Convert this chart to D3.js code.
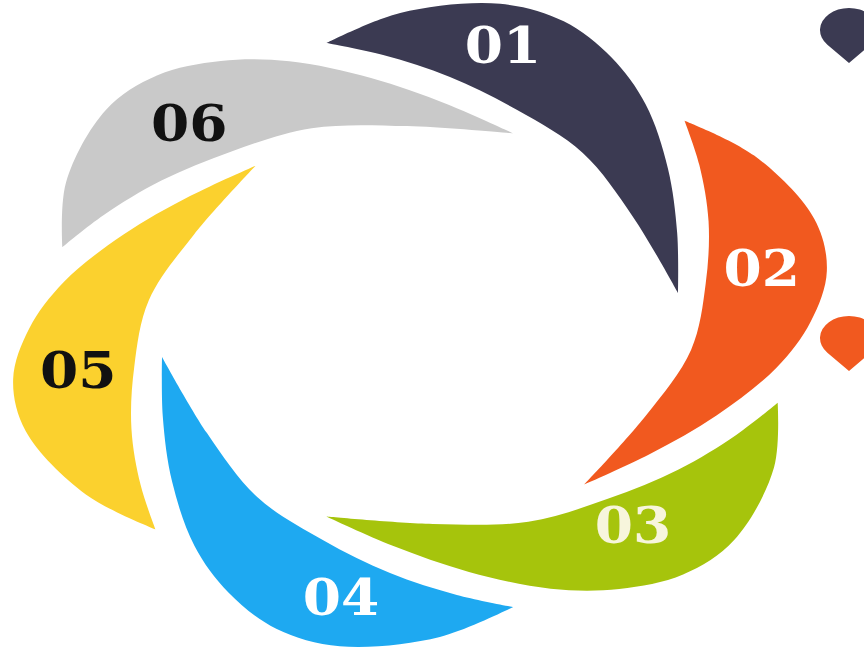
<!DOCTYPE html>
<html>
<head>
<meta charset="utf-8">
<script src="https://cdn.jsdelivr.net/npm/d3@7"></script>
<style>
  body { margin: 0; background: #ffffff; }
  svg { display: block; }
</style>
</head>
<body>
<svg class="swirl"></svg>
<script>
// steps of the swirl, clockwise from the top
var labels = ["01", "02", "03", "04", "05", "06"];
var colors = ["#3b3a52", "#f1591f", "#a6c40c", "#1ea9f1", "#fbd12e", "#c9c9c9"];
var labelColors = ["#ffffff", "#ffffff", "#f7f5dc", "#ffffff", "#111111", "#111111"];

// pins on the right side (colour of the step they belong to)
var pinColors = ["#3b3a52", "#f1591f"];

var screen = {
  width: 864,
  height: 649
}

var center = { x: 420, y: 325 };
var radius = { x: 405, y: 318 }; //picture is stretched sideways

// outline of one petal in unit coords (petal 01), tail -> outer edge -> tip
var outerEdge = [
  [-0.230, -0.887], [-0.049, -0.981], [0.198, -1.010], [0.355, -0.955],
  [0.473, -0.841], [0.557, -0.694], [0.612, -0.493], [0.635, -0.289], [0.637, -0.101]
];
// tip -> inner edge -> tail
var innerEdge = [
  [0.637, -0.101], [0.526, -0.340], [0.402, -0.541], [0.240, -0.676],
  [0.074, -0.780], [-0.091, -0.849], [-0.230, -0.887]
];

// label centres in unit coords
var labelPos = [
  [0.205, -0.881], [0.844, -0.179], [0.526, 0.629],
  [-0.195, 0.855], [-0.844, 0.142], [-0.570, -0.635]
];

var pinPos = [[849, 30], [849, 338]];

var xScale = d3.scaleLinear()
               .domain([-1, 1])
               .range([center.x - radius.x, center.x + radius.x]);

var yScale = d3.scaleLinear()
               .domain([-1, 1])
               .range([center.y - radius.y, center.y + radius.y]);

var rotate = function(p, deg)
{
  var a = deg * Math.PI / 180;
  return [p[0] * Math.cos(a) - p[1] * Math.sin(a),
          p[0] * Math.sin(a) + p[1] * Math.cos(a)];
}

var edgeLine = d3.line()
                 .x(function(d) {return xScale(d[0]);})
                 .y(function(d) {return yScale(d[1]);})
                 .curve(d3.curveCatmullRom.alpha(0.5));

var petalPath = function(i)
{
  var outer = outerEdge.map(function(p) {return rotate(p, i * 60);});
  var inner = innerEdge.map(function(p) {return rotate(p, i * 60);});
  return edgeLine(outer) + edgeLine(inner).replace(/^M/, "L") + "Z";
}

var svg = d3.select(".swirl")
            .attr("width", screen.width)
            .attr("height", screen.height);

svg.append("rect")
   .attr("width", screen.width)
   .attr("height", screen.height)
   .attr("fill", "#ffffff");

svg.append("g")
   .classed("petals", true)
   .selectAll("path")
   .data(labels)
   .enter()
   .append("path")
   .attr("d", function(d, i) {return petalPath(i);})
   .attr("fill", function(d, i) {return colors[i];});

var fontSize = 50;

svg.append("g")
   .classed("labels", true)
   .selectAll("text")
   .data(labels)
   .enter()
   .append("text")
   .attr("transform", function(d, i) {
     return "translate(" + xScale(labelPos[i][0]) + "," +
            (yScale(labelPos[i][1]) + fontSize * 0.36) + ") scale(1.1,1)";
   })
   .attr("text-anchor", "middle")
   .attr("font-family", "'DejaVu Serif', serif")
   .attr("font-weight", "bold")
   .attr("font-size", fontSize)
   .attr("fill", function(d, i) {return labelColors[i];})
   .text(function(d) {return d;});

// teardrop pin: unit circle with a point below it
var d = 1.5;
var tx = Math.sqrt(1 - 1 / (d * d));
var pinShape = "M0," + d + "L" + tx + "," + (1 / d) +
               "A1,1 0 1 0 " + (-tx) + "," + (1 / d) + "Z";

svg.append("g")
   .classed("pins", true)
   .selectAll("path")
   .data(pinColors)
   .enter()
   .append("path")
   .attr("d", pinShape)
   .attr("transform", function(c, i) {
     return "translate(" + pinPos[i][0] + "," + pinPos[i][1] + ") scale(29,22)";
   })
   .attr("fill", function(c) {return c;});
</script>
</body>
</html>
